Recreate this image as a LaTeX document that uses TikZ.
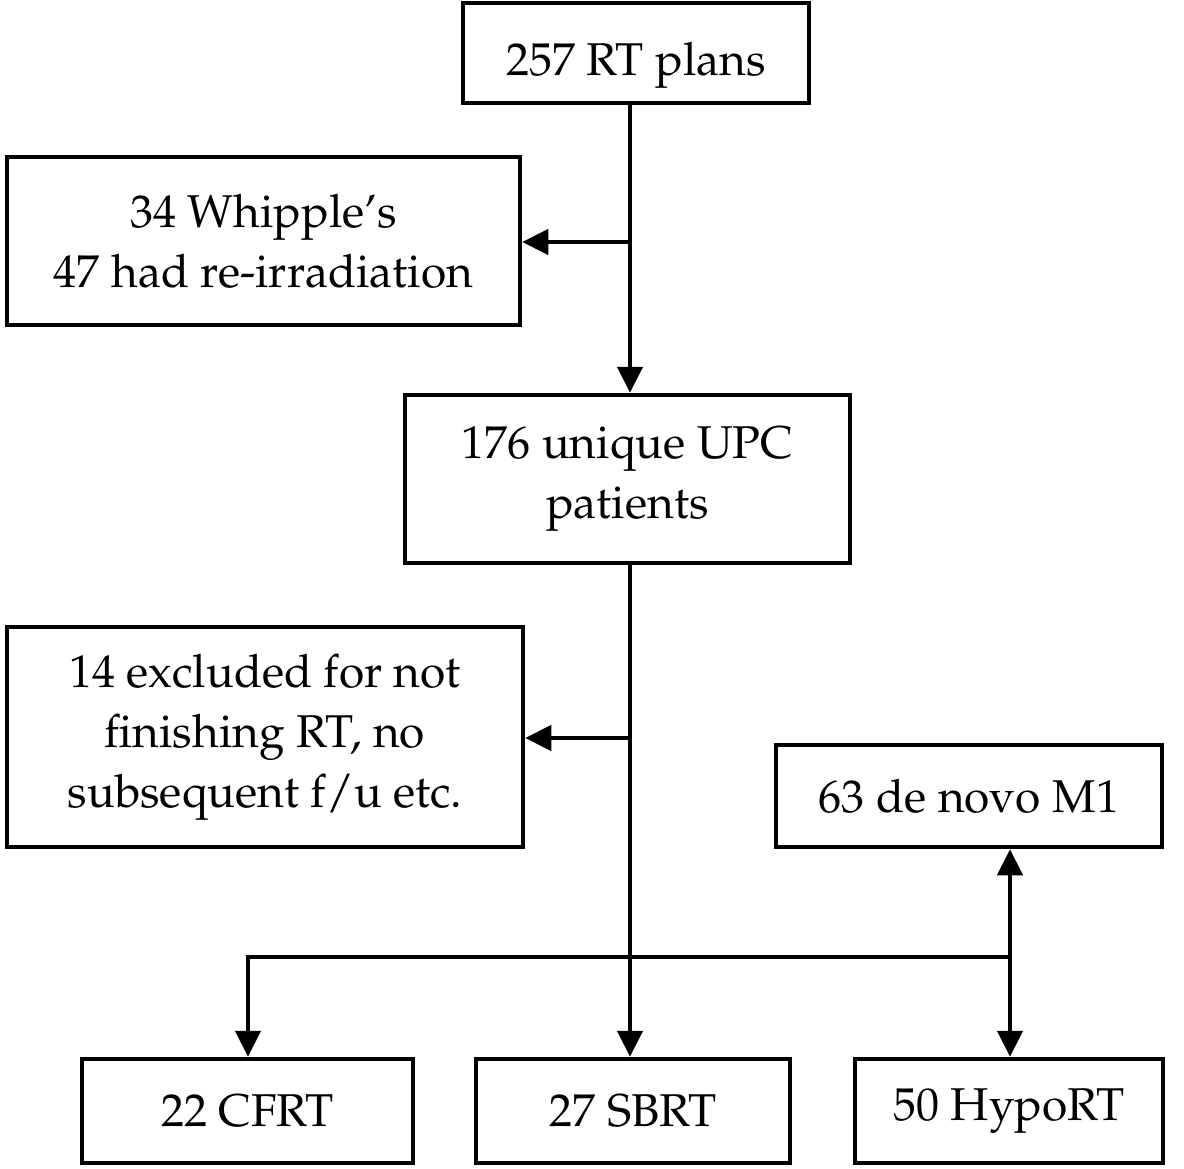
\documentclass[tikz,border=0pt]{standalone}
\usepackage[T1]{fontenc}
\usepackage{mathpazo}
\usetikzlibrary{arrows.meta,positioning}
\tikzset{
  box/.style={draw=black, line width=4.5pt, align=center, inner sep=0pt, font=\fontsize{46}{60}\selectfont},
  arr/.style={-{Triangle[length=26pt,width=25pt]}, line width=4.5pt},
  dblarr/.style={{Triangle[length=26pt,width=25pt]}-{Triangle[length=26pt,width=25pt]}, line width=4.5pt},
}
\begin{document}
\begin{tikzpicture}[x=1pt,y=-1pt]
  \useasboundingbox (0,0) rectangle (1184,1168);
  \node[box, minimum width=346pt, minimum height=100pt, text height=44pt, text depth=0pt] (plans) at (636,53) {257 RT plans};
  \node[box, minimum width=513pt, minimum height=168pt] (whip) at (263.5,241) {34 Whipple's\\47 had re-irradiation};
  \node[box, minimum width=445pt, minimum height=168pt] (uniq) at (627.5,479) {176 unique UPC\\patients};
  \node[box, minimum width=516pt, minimum height=220pt] (excl) at (265,737) {14 excluded for not\\finishing RT, no\\subsequent f/u etc.};
  \node[box, minimum width=386pt, minimum height=102pt] (m1) at (969,796) {63 de novo M1};
  \node[box, minimum width=331pt, minimum height=104pt] (cfrt) at (247.5,1111) {22 CFRT};
  \node[box, minimum width=314pt, minimum height=104pt] (sbrt) at (633,1111) {27 SBRT};
  \node[box, minimum width=308pt, minimum height=104pt] (hypo) at (1009,1111) {50 HypoRT};
  % junctions
  \coordinate (j1) at (630,242);
  \coordinate (j2) at (630,738);
  \coordinate (j3) at (1010,957);
  \coordinate (j4) at (248,957);
  \draw[arr] (j1 |- plans.south) -- (j1 |- uniq.north);
  \draw[arr] (j1) -- (whip.east |- j1);
  \draw[arr] (j2 |- uniq.south) -- (j2 |- sbrt.north);
  \draw[arr] (j2) -- (excl.east |- j2);
  \draw[dblarr] (j3 |- m1.south) -- (j3 |- hypo.north);
  \draw[arr] ([xshift=-2pt]j3) -- (j4) -- (j4 |- cfrt.north);
\end{tikzpicture}
\end{document}
